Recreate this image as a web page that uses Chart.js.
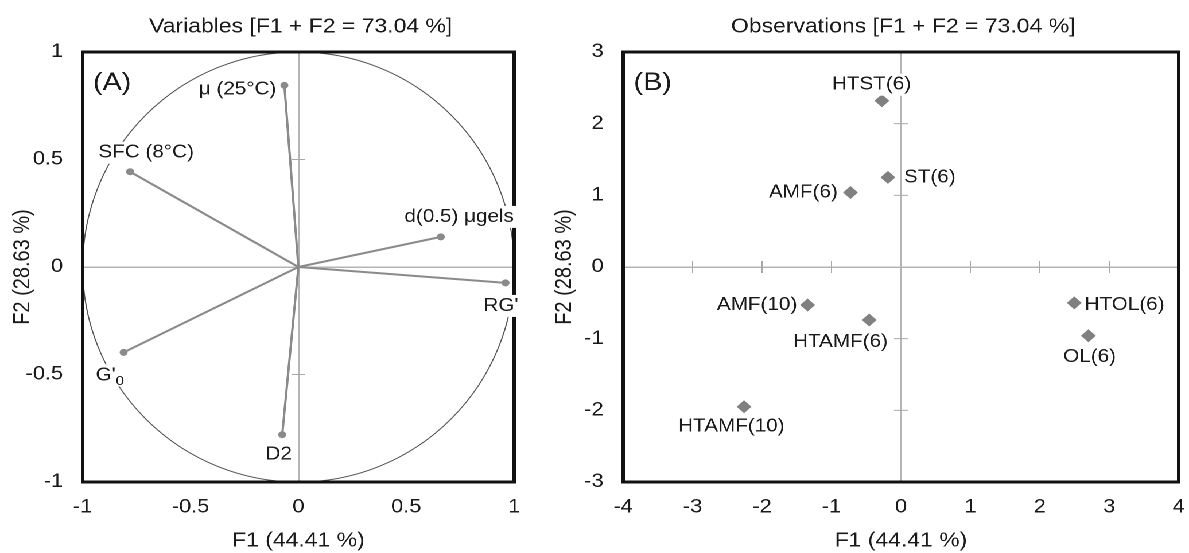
<!DOCTYPE html>
<html>
<head>
<meta charset="utf-8">
<script src="https://cdn.jsdelivr.net/npm/chart.js@4.4.1/dist/chart.umd.min.js"></script>
<style>
  html, body { margin: 0; padding: 0; background: #fff; }
  body { width: 1189px; height: 553px; overflow: hidden; position: relative; }
  /* the original figure is slightly stretched horizontally */
  #stage { position: absolute; left: 0; top: 0; width: 1036px; height: 553px; transform: scaleX(1.1477); transform-origin: 0 0; }
  #varsBox { position: absolute; left: 0; top: 0; width: 470px; height: 553px; }
  #obsBox { position: absolute; left: 470px; top: 0; width: 566px; height: 553px; }
</style>
</head>
<body>
<div id="stage">
  <div id="varsBox"><canvas id="vars" width="470" height="553"></canvas></div>
  <div id="obsBox"><canvas id="obs" width="566" height="553"></canvas></div>
</div>
<script>
// (A) variables, coordinates on F1 / F2
const varNames = ["μ (25°C)", "SFC (8°C)", "d(0.5) μgels", "RG'", "G'_0", "D2"];
const varF1 = [-0.065, -0.78, 0.66, 0.96, -0.81, -0.075];
const varF2 = [0.845, 0.443, 0.14, -0.074, -0.397, -0.78];
const varTicks = [-1, -0.5, 0, 0.5, 1];

// (B) observations
const obsNames = ["HTST(6)", "ST(6)", "AMF(6)", "AMF(10)", "HTAMF(6)", "HTAMF(10)", "HTOL(6)", "OL(6)"];
const obsF1 = [-0.275, -0.187, -0.727, -1.344, -0.457, -2.26, 2.496, 2.70];
const obsF2 = [2.32, 1.25, 1.04, -0.53, -0.74, -1.95, -0.50, -0.96];
const obsTicksX = [-4, -3, -2, -1, 0, 1, 2, 3, 4];
const obsTicksY = [-3, -2, -1, 0, 1, 2, 3];

const axisF1 = "F1 (44.41 %)";
const axisF2 = "F2 (28.63 %)";

// label placement next to each mark: [dx, dy, align]
const varLabelPlace = [[-7, 4, "right"], [14, -19, "center"], [16, -20, "center"], [-4, 23, "center"], [-12, 23, "center"], [-3, 20, "center"]];
const obsLabelPlace = [[-9, -16, "center"], [14, 0, "left"], [-11, 0, "right"], [-9, 0, "right"], [-25, 22, "center"], [-11, 20, "center"], [9, 2, "left"], [1, 21, "center"]];

const FONT = "'Liberation Sans', Arial, sans-serif";
const GREY = "#8a8a8a";

const frame = {
    id: "frame",
    beforeDatasetsDraw(chart, args, opts) {
        const { ctx, chartArea: a, scales: { x, y } } = chart;
        const x0 = x.getPixelForValue(0), y0 = y.getPixelForValue(0);
        ctx.save();
        ctx.beginPath();
        ctx.rect(a.left, a.top, a.width, a.height);
        ctx.clip();
        if (opts.circle) {
            ctx.beginPath();
            ctx.ellipse(x0, y0, x.getPixelForValue(1) - x0, y0 - y.getPixelForValue(1), 0, 0, Math.PI * 2);
            ctx.strokeStyle = "#555";
            ctx.lineWidth = 1;
            ctx.stroke();
        }
        ctx.strokeStyle = "#a8a8a8";
        ctx.lineWidth = 1;
        (opts.yMarks || []).forEach(v => {
            const py = y.getPixelForValue(v);
            ctx.beginPath(); ctx.moveTo(x0 - 6, py); ctx.lineTo(x0 + 6, py); ctx.stroke();
        });
        (opts.xMarks || []).forEach(v => {
            const px = x.getPixelForValue(v);
            ctx.beginPath(); ctx.moveTo(px, y0 - 6); ctx.lineTo(px, y0 + 6); ctx.stroke();
        });
        ctx.restore();
    },
    afterDraw(chart, args, opts) {
        const { ctx, chartArea: a, scales: { x, y } } = chart;
        ctx.save();
        // black frame
        ctx.strokeStyle = "#111";
        ctx.lineWidth = 3;
        ctx.strokeRect(a.left, a.top, a.width, a.height);

        // title + panel tag
        ctx.fillStyle = "#1a1a1a";
        ctx.textBaseline = "middle";
        ctx.textAlign = "center";
        ctx.font = "20px " + FONT;
        ctx.fillText(opts.title, (a.left + a.right) / 2 + 2, 27);
        ctx.textAlign = "left";
        ctx.font = "25px " + FONT;
        ctx.fillText(opts.tag, a.left + 9, a.top + 31);

        // point labels, white box behind each
        opts.names.forEach((name, i) => {
            const [dx, dy, align] = opts.place[i];
            const px = x.getPixelForValue(opts.xs[i]) + dx;
            const py = y.getPixelForValue(opts.ys[i]) + dy;
            const parts = name.split("_");
            ctx.font = "18px " + FONT;
            const w1 = ctx.measureText(parts[0]).width;
            ctx.font = "13px " + FONT;
            const w2 = parts[1] ? ctx.measureText(parts[1]).width : 0;
            const w = w1 + w2;
            let left = px;
            if (align === "center") left = px - w / 2;
            if (align === "right") left = px - w;
            ctx.fillStyle = "#fff";
            ctx.fillRect(left - 2, py - 11, w + 4, 22);
            ctx.fillStyle = "#1a1a1a";
            ctx.textAlign = "left";
            ctx.font = "18px " + FONT;
            ctx.fillText(parts[0], left, py);
            if (parts[1]) {
                ctx.font = "13px " + FONT;
                ctx.fillText(parts[1], left + w1, py + 6);
            }
        });
        ctx.restore();
    }
};

function axis(ticks, title, isY, titlePad) {
    return {
        type: "linear",
        min: ticks[0],
        max: ticks[ticks.length - 1],
        afterBuildTicks: s => { s.ticks = ticks.map(v => ({ value: v })); },
        afterFit: s => {
            if (isY) {
                s.width = s.chart.canvas.id === "vars" ? 72 : 73;
            } else {
                s.height = 71;
                // keep the end labels from shrinking the plot area
                s.paddingLeft = 0;
                s.paddingRight = 0;
            }
        },
        grid: {
            color: c => (c.tick && c.tick.value === 0 ? "#b4b4b4" : "rgba(0,0,0,0)"),
            lineWidth: 1.5,
            drawTicks: false
        },
        border: { display: false },
        ticks: {
            color: "#1a1a1a",
            font: { family: FONT, size: 19 },
            padding: isY ? 17 : 14,
            callback: v => String(v)
        },
        title: {
            display: true,
            text: title,
            color: "#1a1a1a",
            font: { family: FONT, size: 20 },
            padding: isY ? { top: titlePad, bottom: 0 } : { top: 0, bottom: 0 }
        }
    };
}

const commonOpts = {
    responsive: false,
    animation: false,
    devicePixelRatio: 2,
    events: [],
    plugins: { legend: { display: false }, tooltip: { enabled: false } }
};

new Chart(document.getElementById("vars"), {
    type: "scatter",
    data: {
        datasets: varNames.map((n, i) => ({
            label: n,
            data: [{ x: 0, y: 0 }, { x: varF1[i], y: varF2[i] }],
            showLine: true,
            borderColor: GREY,
            borderWidth: 2,
            pointRadius: [0, 3.5],
            pointBackgroundColor: GREY,
            pointBorderWidth: 0
        }))
    },
    options: {
        ...commonOpts,
        layout: { padding: { top: 52, right: 22, bottom: 0, left: 0 } },
        scales: {
            x: axis(varTicks, axisF1, false),
            y: axis(varTicks, axisF2, true, 8)
        },
        plugins: {
            ...commonOpts.plugins,
            frame: {
                title: "Variables [F1 + F2 = 73.04 %]",
                tag: "(A)",
                circle: true,
                yMarks: [-0.5, 0.5],
                xMarks: [],
                names: varNames, xs: varF1, ys: varF2, place: varLabelPlace
            }
        }
    },
    plugins: [frame]
});

new Chart(document.getElementById("obs"), {
    type: "scatter",
    data: {
        datasets: [{
            label: "Observations",
            data: obsF1.map((v, i) => ({ x: v, y: obsF2[i] })),
            pointStyle: "rectRot",
            pointRadius: 6.5,
            pointBackgroundColor: "#808080",
            pointBorderWidth: 0
        }]
    },
    options: {
        ...commonOpts,
        layout: { padding: { top: 52, right: 9, bottom: 0, left: 0 } },
        scales: {
            x: axis(obsTicksX, axisF1, false),
            y: axis(obsTicksY, axisF2, true, 10)
        },
        plugins: {
            ...commonOpts.plugins,
            frame: {
                title: "Observations [F1 + F2 = 73.04 %]",
                tag: "(B)",
                circle: false,
                yMarks: [-2, -1, 1, 2],
                xMarks: [-3, -2, -1, 1, 2, 3],
                names: obsNames, xs: obsF1, ys: obsF2, place: obsLabelPlace
            }
        }
    },
    plugins: [frame]
});
</script>
</body>
</html>
